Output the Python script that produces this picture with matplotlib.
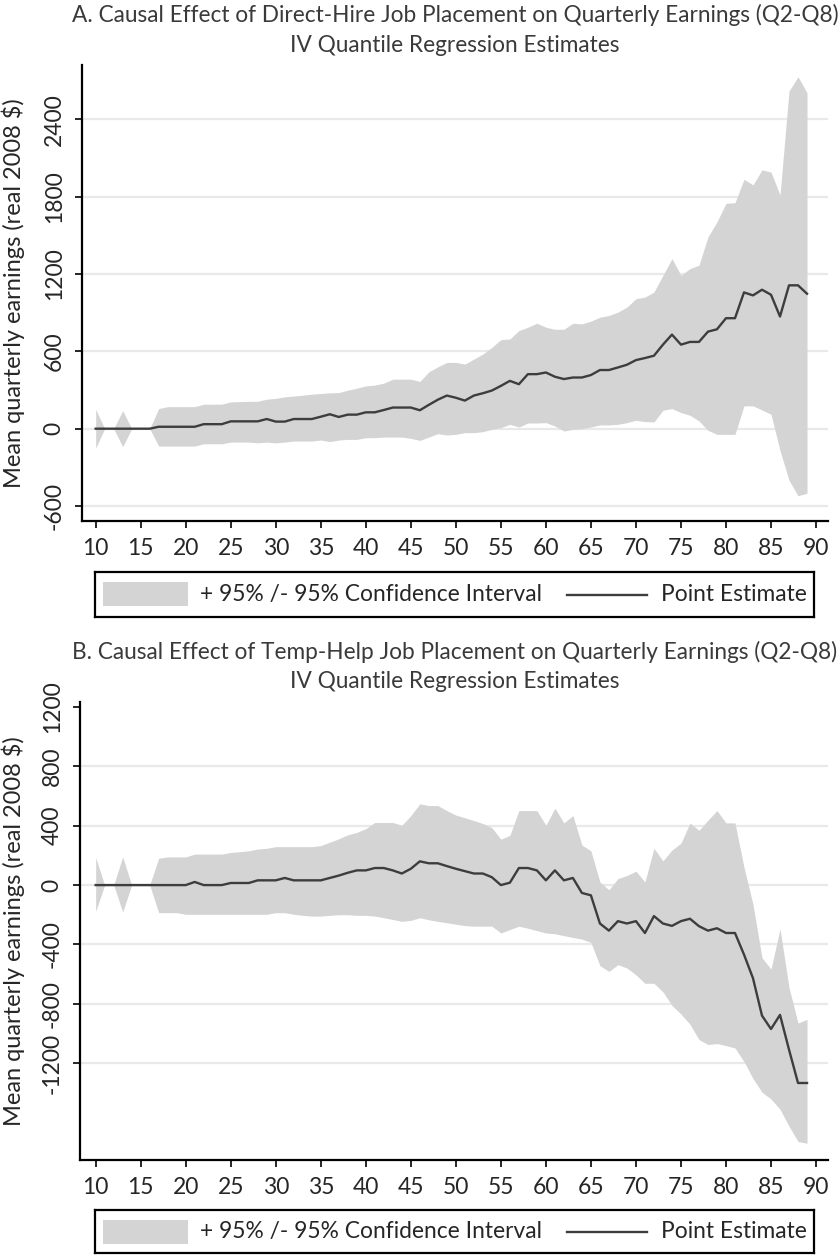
import numpy as np
import matplotlib
matplotlib.use('Agg')
import matplotlib.pyplot as plt
from matplotlib.patches import Rectangle
from matplotlib.lines import Line2D

plt.rcParams['font.family'] = ['Lato', 'DejaVu Sans']

# quantiles (percent)
quantiles = list(range(10, 90))

# Panel A: direct-hire placement
est_a = [0, 0, 0, 0, 0, 0, 0, 15, 15, 15, 15, 15, 35, 35, 35, 57, 57, 57, 57, 75,
         55, 55, 75, 75, 75, 93, 112, 91, 109, 109, 127, 127, 145, 164, 164, 164, 143, 185, 225, 257,
         240, 218, 257, 275, 296, 332, 371, 345, 423, 423, 436, 403, 385, 397, 397, 416, 455, 455, 475, 496,
         532, 548, 566, 652, 730, 652, 673, 673, 753, 771, 857, 857, 1057, 1034, 1078, 1039, 870, 1112, 1112, 1047]
hi_a = [150, 0, 0, 140, 0, 0, 0, 156, 171, 171, 171, 171, 190, 190, 190, 208, 210, 212, 213, 229,
        235, 247, 253, 260, 268, 273, 278, 280, 299, 314, 332, 338, 353, 384, 384, 384, 366, 441, 480, 514,
        514, 501, 540, 579, 631, 691, 696, 761, 787, 818, 787, 771, 771, 818, 813, 834, 865, 878, 904, 943,
        1008, 1021, 1060, 1190, 1319, 1190, 1242, 1268, 1488, 1605, 1748, 1753, 1935, 1891, 2008, 1990, 1813, 2618, 2730, 2605]
lo_a = [-150, 0, 0, -140, 0, 0, 0, -135, -135, -135, -135, -135, -117, -117, -117, -104, -104, -104, -110, -104,
        -110, -104, -96, -96, -96, -88, -100, -88, -83, -83, -70, -70, -65, -65, -65, -75, -91, -65, -39, -49,
        -44, -31, -31, -23, -5, 8, 34, 13, 44, 44, 47, 21, -18, -5, 0, 13, 29, 29, 34, 47,
        65, 55, 52, 143, 156, 125, 104, 60, -13, -44, -44, -44, 177, 177, 145, 112, -170, -400, -520, -500]

# Panel B: temp-help placement
est_b = [0, 0, 0, 0, 0, 0, 0, 0, 0, 0, 0, 21, 0, 0, 0, 14, 14, 14, 32, 32,
         32, 48, 32, 32, 32, 32, 48, 64, 83, 99, 99, 115, 115, 99, 78, 110, 160, 147, 147, 128,
         110, 94, 78, 78, 53, 0, 16, 115, 115, 99, 32, 99, 32, 48, -53, -69, -259, -307, -243, -259,
         -243, -323, -209, -259, -275, -243, -227, -277, -307, -291, -323, -323, -468, -628, -880, -970, -875, -1109, -1334, -1334]
hi_b = [186, 0, 0, 190, 0, 0, 0, 181, 190, 190, 190, 209, 209, 209, 209, 220, 225, 231, 243, 248,
        259, 259, 259, 259, 259, 266, 289, 312, 339, 355, 380, 422, 422, 422, 403, 468, 548, 536, 536, 502,
        472, 454, 435, 415, 387, 309, 335, 502, 502, 502, 403, 518, 419, 468, 270, 231, 21, -32, 44, 64,
        94, 21, 248, 163, 236, 282, 419, 369, 438, 502, 419, 419, 120, -130, -490, -566, -296, -690, -930, -905]
lo_b = [-177, 0, 0, -181, 0, 0, 0, -186, -186, -186, -197, -197, -197, -197, -197, -197, -197, -197, -197, -197,
        -186, -186, -197, -204, -209, -209, -204, -200, -200, -204, -204, -209, -220, -232, -245, -238, -220, -234, -245, -254,
        -264, -273, -277, -277, -277, -323, -300, -277, -291, -307, -323, -328, -341, -353, -364, -387, -543, -582, -536, -559,
        -605, -662, -662, -720, -811, -869, -938, -1041, -1075, -1068, -1082, -1098, -1190, -1304, -1396, -1442, -1511, -1625, -1728, -1740]

xticks = list(range(10, 95, 5))
yticks_a = [-600, 0, 600, 1200, 1800, 2400]
yticks_b = [-1200, -800, -400, 0, 400, 800, 1200]
grid_b = [-1200, -800, -400, 0, 400, 800]

title_a = 'A. Causal Effect of Direct-Hire Job Placement on Quarterly Earnings (Q2-Q8)'
title_b = 'B. Causal Effect of Temp-Help Job Placement on Quarterly Earnings (Q2-Q8)'
subtitle = 'IV Quantile Regression Estimates'
ylabel = 'Mean quarterly earnings (real 2008 $)'
ci_label = '+ 95% /- 95% Confidence Interval'
pt_label = 'Point Estimate'

FILL = '#d4d4d4'
LINE = '#3d3d3d'
GRID = '#e9e9e9'
TXT = '#262626'
W, H = 840, 1255


def fig_box(x0, y0, x1, y1):
    # pixel box (top-left origin) -> figure fraction rect
    return [x0 / W, 1 - y1 / H, (x1 - x0) / W, (y1 - y0) / H]


def draw_panel(fig, rect, est, lo, hi, yticks, grid, xlim, ylim, left_px):
    ax = fig.add_axes(rect)
    x = np.array(quantiles)
    for g in grid:
        ax.axhline(g, color=GRID, lw=1.6, zorder=0)
    ax.fill_between(x, lo, hi, color=FILL, lw=0, zorder=1)
    ax.plot(x, est, color=LINE, lw=1.7, zorder=2)
    ax.set_xlim(*xlim)
    ax.set_ylim(*ylim)
    ax.set_xticks(xticks)
    ax.set_yticks(yticks)
    ax.set_yticklabels([str(t) for t in yticks], rotation=90, va='center', ha='center')
    for s in ['top', 'right']:
        ax.spines[s].set_visible(False)
    for s in ['left', 'bottom']:
        ax.spines[s].set_linewidth(1.6)
    ax.tick_params(direction='out', length=5, width=1.4, labelsize=16.5,
                   colors=TXT, pad=7)
    ax.tick_params(axis='y', pad=15)
    ax.set_ylabel(ylabel, fontsize=17, color=TXT, va='center')
    width_px = rect[2] * W
    ax.yaxis.set_label_coords((13 - left_px) / width_px, 0.5)
    return ax


def draw_legend(fig, box):
    lax = fig.add_axes(fig_box(*box))
    lax.set_xlim(box[0], box[2])
    lax.set_ylim(box[3], box[1])
    lax.set_xticks([])
    lax.set_yticks([])
    for s in lax.spines.values():
        s.set_linewidth(1.6)
    ym = (box[1] + box[3]) / 2
    lax.add_patch(Rectangle((box[0] + 8, box[1] + 10), 85, 24, color=FILL, lw=0))
    lax.text(box[0] + 105, ym, ci_label, fontsize=16.4, color=TXT, va='center', ha='left')
    lax.add_line(Line2D([567, 647], [ym, ym], color=LINE, lw=1.7))
    lax.text(661, ym, pt_label, fontsize=16.4, color=TXT, va='center', ha='left')


fig = plt.figure(figsize=(8.4, 12.55), dpi=100)

ax_a = draw_panel(fig, fig_box(82, 65, 828, 521), est_a, lo_a, hi_a,
                  yticks_a, yticks_a, (8.48, 91.33), (-716, 2821), 82)
ax_b = draw_panel(fig, fig_box(80, 702, 828, 1160), est_b, lo_b, hi_b,
                  yticks_b, grid_b, (8.26, 91.33), (-1853, 1234), 80)

for y1, y2, t in [(15, 45, title_a), (652, 682, title_b)]:
    fig.text(455 / W, 1 - y1 / H, t, fontsize=16.3, color='#3a3a3a', ha='center', va='center')
    fig.text(455 / W, 1 - y2 / H, subtitle, fontsize=16.3, color='#3a3a3a', ha='center', va='center')

draw_legend(fig, (95, 572, 814, 617))
draw_legend(fig, (95, 1210, 814, 1253))

fig.savefig('out.png', dpi=100, facecolor='white')
